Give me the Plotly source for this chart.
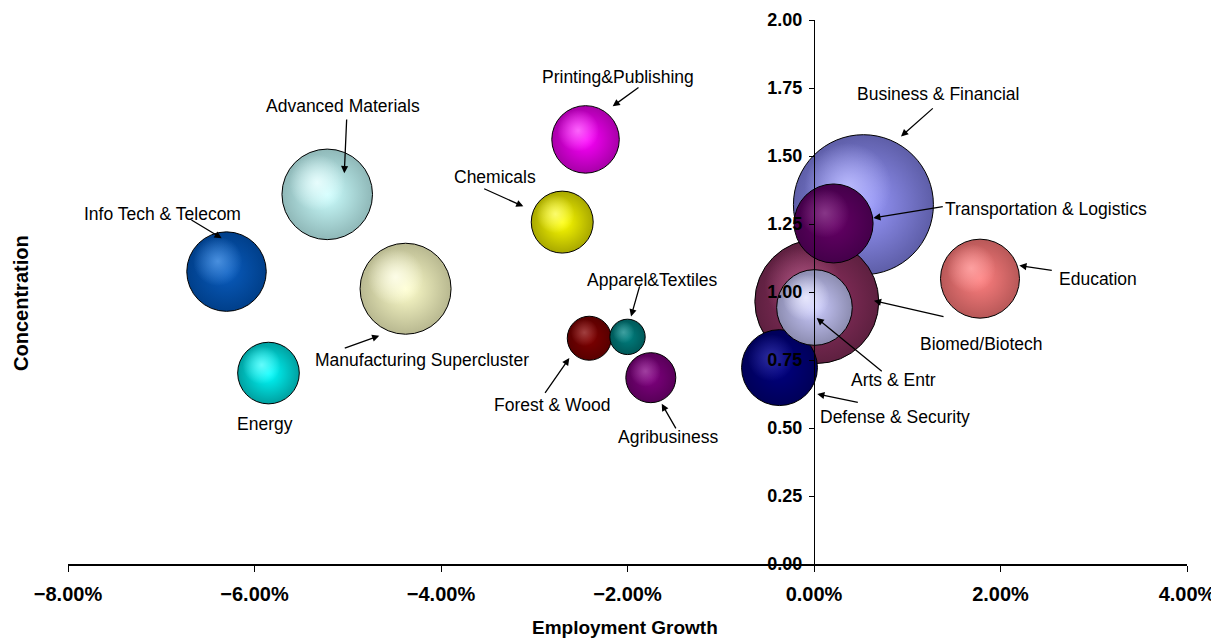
import math
import plotly.graph_objects as go

# ---- data ----
clusters = ["Business & Financial", "Biomed/Biotech", "Advanced Materials", "Manufacturing Supercluster",
            "Info Tech & Telecom", "Transportation & Logistics", "Education", "Defense & Security",
            "Arts & Entr", "Printing&Publishing", "Chemicals", "Energy", "Agribusiness",
            "Forest & Wood", "Apparel&Textiles"]
growth_pct = [0.53, 0.03, -5.22, -4.38, -6.30, 0.21, 1.78, -0.37, 0.005, -2.45, -2.70, -5.85, -1.75, -2.41, -2.00]
concentration = [1.321, 0.965, 1.359, 1.012, 1.075, 1.252, 1.049, 0.722, 0.943, 1.561, 1.257, 0.702, 0.685, 0.830, 0.835]
employment = [49000, 38400, 20500, 20700, 15800, 15600, 15600, 14400, 14300, 11400, 9600, 9500, 6250, 4840, 3130]

base_colors = ["#9A9AFF", "#943264", "#CCFFFF", "#FFFFCC", "#0A5CBE", "#660066", "#FF8080", "#000080",
               "#CCCCFF", "#FF00FF", "#FFFF00", "#00FFFF", "#800080", "#800000", "#008080"]
edge_colors = ["#5E5EA8", "#5E2040", "#8FB8B8", "#B8B890", "#003F8A", "#44004A", "#B85858", "#000058",
               "#8C8CB0", "#A800A8", "#A8A800", "#00A0A0", "#580058", "#580000", "#005858"]
highlight_rgb = [(190, 190, 255), (176, 90, 133), (236, 255, 255), (255, 255, 236), (80, 150, 228),
                 (140, 60, 140), (255, 165, 165), (50, 50, 165), (236, 236, 255), (255, 110, 255),
                 (255, 255, 120), (110, 255, 255), (165, 70, 165), (165, 70, 70), (70, 165, 165)]

# label placement (data coords): text position, arrow tail, arrow tip
label_text_pos = {
    "Advanced Materials": (-5.051, 1.685), "Info Tech & Telecom": (-6.992, 1.287), "Energy": (-5.887, 0.514),
    "Manufacturing Supercluster": (-4.204, 0.751), "Printing&Publishing": (-2.105, 1.791),
    "Chemicals": (-3.416, 1.423), "Apparel&Textiles": (-1.732, 1.045), "Forest & Wood": (-2.806, 0.585),
    "Agribusiness": (-1.566, 0.466), "Business & Financial": (1.328, 1.729),
    "Transportation & Logistics": (2.491, 1.305), "Education": (3.042, 1.047),
    "Biomed/Biotech": (1.794, 0.809), "Arts & Entr": (0.853, 0.677), "Defense & Security": (0.865, 0.540),
}
arrow_tail = {
    "Advanced Materials": (-5.011, 1.640), "Info Tech & Telecom": (-6.692, 1.268),
    "Manufacturing Supercluster": (-5.048, 0.792), "Printing&Publishing": (-1.866, 1.756),
    "Chemicals": (-3.553, 1.382), "Apparel&Textiles": (-1.866, 1.026), "Forest & Wood": (-2.895, 0.624),
    "Agribusiness": (-1.472, 0.493), "Business & Financial": (1.290, 1.680),
    "Transportation & Logistics": (1.397, 1.315), "Education": (2.566, 1.079),
    "Biomed/Biotech": (1.405, 0.908), "Arts & Entr": (0.743, 0.704), "Defense & Security": (0.486, 0.593),
}
arrow_tip = {
    "Advanced Materials": (-5.037, 1.437), "Info Tech & Telecom": (-6.352, 1.198),
    "Manufacturing Supercluster": (-4.662, 0.839), "Printing&Publishing": (-2.159, 1.683),
    "Chemicals": (-3.117, 1.315), "Apparel&Textiles": (-1.962, 0.910), "Forest & Wood": (-2.624, 0.757),
    "Agribusiness": (-1.633, 0.589), "Business & Financial": (0.933, 1.572),
    "Transportation & Logistics": (0.636, 1.272), "Education": (2.202, 1.097),
    "Biomed/Biotech": (0.643, 0.968), "Arts & Entr": (0.029, 0.904), "Defense & Security": (0.035, 0.625),
}

x_ticks = [-0.08, -0.06, -0.04, -0.02, 0.0, 0.02, 0.04]
y_ticks = [0, 0.25, 0.5, 0.75, 1.0, 1.25, 1.5, 1.75, 2.0]

FONT = "Liberation Sans, Arial, sans-serif"
W, H = 1211, 632
M = dict(l=60, r=32, t=12, b=76)
X_RANGE = [-0.08, 0.04]
Y_RANGE = [0, 2]
SIZEREF = 5.0

px_per_x = (W - M["l"] - M["r"]) / (X_RANGE[1] - X_RANGE[0])
px_per_y = (H - M["t"] - M["b"]) / (Y_RANGE[1] - Y_RANGE[0])

fig = go.Figure()
for i, name in enumerate(clusters):
    x = growth_pct[i] / 100
    y = concentration[i]
    v = employment[i]
    # main bubble
    fig.add_trace(go.Scatter(
        x=[x], y=[y], mode="markers", name=name, text=[name], hoverinfo="text",
        marker=dict(size=[v], sizemode="area", sizeref=SIZEREF, opacity=1,
                    color=edge_colors[i],
                    gradient=dict(type="radial", color=base_colors[i]),
                    line=dict(color="black", width=1)),
        showlegend=False, cliponaxis=False,
    ))
    # soft highlight toward the upper-left (3D shading)
    r_px = math.sqrt(v / (2 * SIZEREF))
    hx = x - 0.22 * r_px / px_per_x
    hy = y + 0.26 * r_px / px_per_y
    rr, gg, bb = highlight_rgb[i]
    fig.add_trace(go.Scatter(
        x=[hx], y=[hy], mode="markers", hoverinfo="skip",
        marker=dict(size=[v * 0.62 ** 2], sizemode="area", sizeref=SIZEREF, opacity=1,
                    color=f"rgba({rr},{gg},{bb},0)",
                    gradient=dict(type="radial", color=f"rgba({rr},{gg},{bb},0.9)"),
                    line=dict(width=0)),
        showlegend=False, cliponaxis=False,
    ))

annotations = []
for name in clusters:
    tx, ty = label_text_pos[name]
    annotations.append(dict(x=tx / 100, y=ty, xref="x", yref="y", text=name, showarrow=False,
                            xanchor="center", yanchor="middle",
                            font=dict(family=FONT, size=17.5, color="black")))
    if name in arrow_tip:
        hx, hy = arrow_tip[name]
        sx, sy = arrow_tail[name]
        annotations.append(dict(x=hx / 100, y=hy, ax=sx / 100, ay=sy, xref="x", yref="y",
                                axref="x", ayref="y", text="", showarrow=True,
                                arrowhead=2, arrowsize=1.1, arrowwidth=1.3, arrowcolor="black",
                                standoff=0, startstandoff=0))

annotations.append(dict(x=0.4978, y=-0.1176, xref="paper", yref="paper", text="<b>Employment Growth</b>",
                        xanchor="center", yanchor="middle",
                        showarrow=False, font=dict(family=FONT, size=19, color="black")))
annotations.append(dict(x=-0.042, y=0.48, xref="paper", yref="paper", text="<b>Concentration</b>",
                        xanchor="center", yanchor="middle",
                        textangle=-90, showarrow=False, font=dict(family=FONT, size=20, color="black")))

fig.update_layout(
    width=W, height=H,
    margin=dict(**M, autoexpand=False),
    paper_bgcolor="white", plot_bgcolor="white",
    annotations=annotations,
    xaxis=dict(range=X_RANGE, tickvals=x_ticks, tickformat=".2%", automargin=False,
               showgrid=False, zeroline=False, showline=True, linecolor="black", linewidth=2,
               ticks="outside", ticklen=6, tickcolor="black", tickwidth=1.2,
               ticklabelstandoff=5,
               tickfont=dict(family=FONT, size=20, color="black", weight="bold")),
    yaxis=dict(range=Y_RANGE, tickvals=y_ticks, tickformat=".2f", anchor="free", position=8 / 12,
               automargin=False,
               showgrid=False, zeroline=False, showline=True, linecolor="black", linewidth=1.3,
               ticks="outside", ticklen=5, tickcolor="black", tickwidth=1.2,
               ticklabelstandoff=3,
               tickfont=dict(family=FONT, size=18, color="black", weight="bold")),
)

fig.write_html("out.html")
